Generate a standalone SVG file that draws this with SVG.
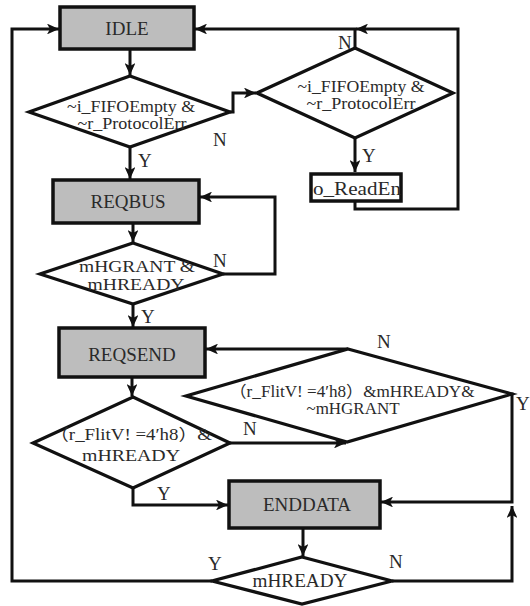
<svg xmlns="http://www.w3.org/2000/svg" width="530" height="606" viewBox="0 0 530 606">
<defs>
<marker id="ah" viewBox="0 0 10 10" refX="10" refY="5" markerWidth="4" markerHeight="3.6" orient="auto" markerUnits="strokeWidth" preserveAspectRatio="none">
<path d="M0,0 L10,5 L0,10 L2.5,5 Z" fill="#111"/>
</marker>
</defs>
<style>
.box{fill:#bdbdbd;stroke:#111;stroke-width:3.5}
.obox{fill:#fff;stroke:#111;stroke-width:3.5}
.dia{fill:#fff;stroke:#111;stroke-width:3.2;stroke-linejoin:miter}
.c{fill:none;stroke:#111;stroke-width:3}
.a{marker-end:url(#ah)}
.t{font-size:19px;text-anchor:middle;fill:#2a2a2a}
.s{font-size:16px;text-anchor:middle;fill:#2a2a2a}
.l{font-size:19px;fill:#2a2a2a}
</style>
<rect width="530" height="606" fill="#fff"/>
<g id="connectors">
<path class="c a" d="M130,49 V75"/>
<path class="c a" d="M130,147 V179"/>
<path class="c a" d="M230,112 H233 V93 H256"/>
<path class="c a" d="M355,138 V172"/>
<path class="c a" d="M355,201 V209 H458 V29 H356"/>
<path class="c a" d="M355,48 V29 H195"/>
<path class="c a" d="M133,223 V242"/>
<path class="c a" d="M223,274 H275 V197 H200"/>
<path class="c a" d="M133,304 V327"/>
<path class="c a" d="M132,377 V396"/>
<path class="c a" d="M230,443 H346"/>
<path class="c a" d="M348,349 H206"/>
<path class="c a" d="M133,488 V505 H228"/>
<path class="c a" d="M510,394 H512 V502 H381"/>
<path class="c a" d="M392,581 H512 V506"/>
<path class="c a" d="M303,528 V556"/>
<path class="c a" d="M212,581 H12 V29 H59"/>
</g>
<g font-family="Liberation Serif, 'Noto Sans CJK SC', serif">
<g id="idle">
<rect class="box" x="60" y="7" width="134" height="42"/>
<text class="t" x="127" y="35">IDLE</text>
</g>
<g id="cond1">
<polygon class="dia" points="130,76 230,112 130,147 29,112"/>
<text class="s" x="131" y="112" textLength="128" lengthAdjust="spacingAndGlyphs">~i_FIFOEmpty &amp;</text>
<text class="s" x="132" y="129" textLength="109" lengthAdjust="spacingAndGlyphs">~r_ProtocolErr</text>
</g>
<g id="cond2">
<polygon class="dia" points="355,48 453,93 355,138 257,93"/>
<text class="s" x="361" y="92" textLength="127" lengthAdjust="spacingAndGlyphs">~i_FIFOEmpty &amp;</text>
<text class="s" x="361" y="109" textLength="109" lengthAdjust="spacingAndGlyphs">~r_ProtocolErr</text>
</g>
<g id="readen">
<rect class="obox" x="311" y="174" width="90" height="27"/>
<text class="l" x="313" y="195" textLength="88" lengthAdjust="spacingAndGlyphs" font-size="20">o_ReadEn</text>
</g>
<g id="reqbus">
<rect class="box" x="53" y="180" width="146" height="43"/>
<text class="t" x="128" y="208">REQBUS</text>
</g>
<g id="cond3">
<polygon class="dia" points="133,243 223,274 133,304 40,274"/>
<text class="s" x="137" y="272" textLength="116" lengthAdjust="spacingAndGlyphs">mHGRANT &amp;</text>
<text class="s" x="136" y="290" textLength="97" lengthAdjust="spacingAndGlyphs">mHREADY</text>
</g>
<g id="reqsend">
<rect class="box" x="59" y="328" width="146" height="49"/>
<text class="t" x="132" y="361">REQSEND</text>
</g>
<g id="cond4">
<polygon class="dia" points="348,349 512,394 347,442 186,396"/>
<text class="s" x="352" y="397" textLength="245" lengthAdjust="spacingAndGlyphs">（r_FlitV!  =4′h8）&amp;mHREADY&amp;</text>
<text class="s" x="353" y="414" textLength="93" lengthAdjust="spacingAndGlyphs">~mHGRANT</text>
</g>
<g id="cond5">
<polygon class="dia" points="133,397 230,443 133,488 33,443"/>
<text class="s" x="131" y="440" textLength="162" lengthAdjust="spacingAndGlyphs">（r_FlitV!  =4′h8）&amp;</text>
<text class="s" x="131" y="461" textLength="98" lengthAdjust="spacingAndGlyphs">mHREADY</text>
</g>
<g id="enddata">
<rect class="box" x="229" y="481" width="151" height="47"/>
<text class="t" x="307" y="511">ENDDATA</text>
</g>
<g id="cond6">
<polygon class="dia" points="302,557 392,581 302,604 212,581"/>
<text class="t" x="300" y="587" textLength="95" lengthAdjust="spacingAndGlyphs">mHREADY</text>
</g>
<g id="labels">
<text class="l" x="138" y="167">Y</text>
<text class="l" x="213" y="146">N</text>
<text class="l" x="338" y="49">N</text>
<text class="l" x="362" y="162">Y</text>
<text class="l" x="213" y="267">N</text>
<text class="l" x="141" y="323">Y</text>
<text class="l" x="377" y="348">N</text>
<text class="l" x="516" y="410">Y</text>
<text class="l" x="243" y="435">N</text>
<text class="l" x="157" y="500">Y</text>
<text class="l" x="208" y="570">Y</text>
<text class="l" x="389" y="568">N</text>
</g>
</g>
</svg>
